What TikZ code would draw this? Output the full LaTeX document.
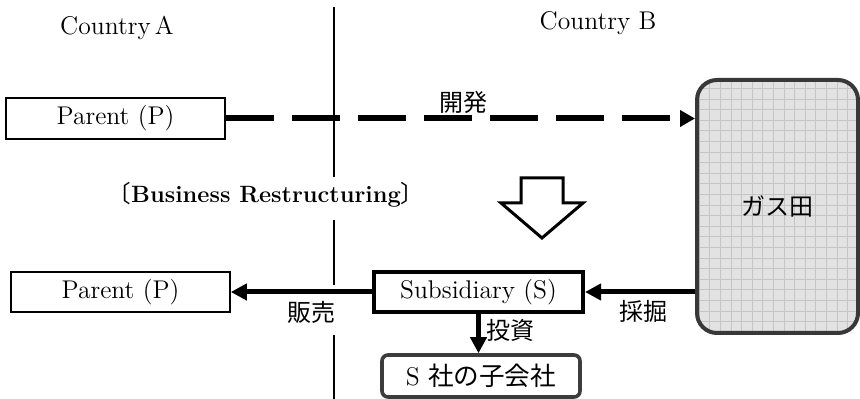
\documentclass[tikz,border=0pt]{standalone}
\usepackage{fontspec}
\newfontfamily\jp{Noto Sans CJK JP}
\usetikzlibrary{arrows.meta}
\definecolor{gasfill}{HTML}{E2E2E2}
\definecolor{gasgrid}{HTML}{C4C4C4}
\definecolor{gasedge}{HTML}{383838}
\definecolor{subedge}{HTML}{3C3C3C}
\tikzset{
  txt/.style={font=\fontsize{12.8}{15}\selectfont, inner sep=0pt},
  jptxt/.style={font=\fontsize{12}{14}\selectfont\jp, inner sep=0pt},
  entity/.style={draw, line width=0.8pt, rectangle, inner sep=0pt,
    font=\fontsize{12.8}{15}\selectfont},
  subbox/.style={entity, line width=2pt},
  childbox/.style={entity, draw=subedge, line width=1.8pt, rounded corners=3pt},
  fieldbox/.style={draw=gasedge, line width=2pt, rounded corners=10pt, fill=gasfill,
    inner sep=0pt, font=\fontsize{12}{14}\selectfont\jp,
    path picture={\draw[gasgrid, line width=0.4pt]
      (path picture bounding box.south west) grid[step=5.3pt]
      (path picture bounding box.north east);}},
  flow/.style={line width=2.5pt, -{Triangle[length=8pt,width=8pt]}},
  devflow/.style={line width=3pt, dash pattern=on 24pt off 9pt,
    -{Triangle[length=7.5pt,width=8pt]}},
  divider/.style={line width=0.75pt},
  blockarrow/.style={draw, line width=1.5pt, fill=white, line join=miter},
}
\begin{document}
\begin{tikzpicture}[x=0.5pt, y=-0.5pt]
\useasboundingbox (0,0) rectangle (860,399);

% border between the two countries
\draw[divider] (334,7) -- (334,177);
\draw[divider] (334,220) -- (334,285);
\draw[divider] (334,335) -- (334,399);

% country headings
\node[txt] (ctyA) at (117,28) {Country\,A};
\node[txt] (ctyB) at (598,23) {Country B};

% before the restructuring
\node[entity, minimum width=109.5pt, minimum height=20.5pt] (pA) at (115.5,118.5) {Parent (P)};
\node[fieldbox, minimum width=80.5pt, minimum height=126.5pt] (gas) at (777.5,206.5) {ガス田};
\draw[devflow] (pA.east) -- (pA.east -| gas.west);
\node[jptxt] (dev) at (463,102) {開発};

% restructuring step
\node[txt, font=\fontsize{11.8}{14}\selectfont] (restr) at (266,195)
  {{\jp 〔}\textbf{Business Restructuring}{\jp 〕}};
\draw[blockarrow] (521,178) -- (563,178) -- (563,203) -- (583,203) -- (542,238)
  -- (501,203) -- (521,203) -- cycle;

% after the restructuring
\node[entity, minimum width=109.5pt, minimum height=20pt] (pB) at (120.5,292) {Parent (P)};
\node[subbox, minimum width=104.5pt, minimum height=20pt] (sub) at (478.5,292) {Subsidiary (S)};
\node[childbox, minimum width=99pt, minimum height=21pt] (child) at (481,376) {S {\jp 社の子会社}};

\draw[flow] (sub.east -| gas.west) -- (sub.east);
\draw[flow] (sub.west) -- (pB.east);
\draw[flow] (sub.south) -- (sub.south |- child.north);

\node[jptxt] (mine) at (643,311) {採掘};
\node[jptxt] (sell) at (311,312) {販売};
\node[jptxt] (inv) at (510,330) {投資};
\end{tikzpicture}
\end{document}
